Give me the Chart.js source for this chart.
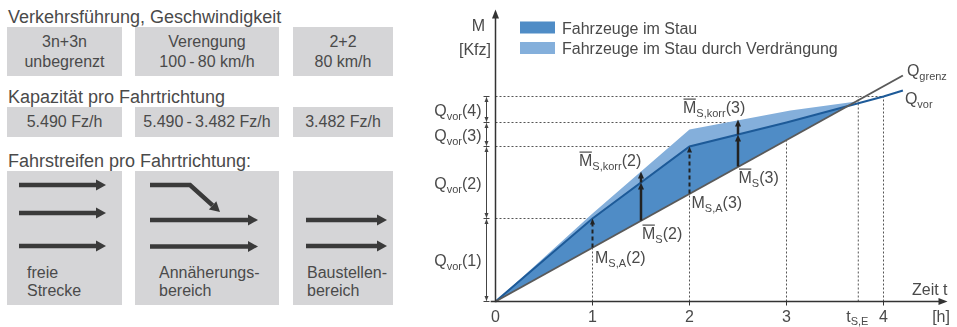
<!DOCTYPE html>
<html lang="de">
<head>
<meta charset="utf-8">
<title>Stauentwicklung an der Arbeitsstelle</title>
<script src="https://cdn.jsdelivr.net/npm/chart.js@4.4.1/dist/chart.umd.min.js"></script>
<style>
  html, body { margin: 0; padding: 0; background: #fff; }
  body {
    position: relative; width: 957px; height: 327px; overflow: hidden;
    font-family: "Liberation Sans", Arial, sans-serif; color: #4a4a4a;
  }
  .kopf { position: absolute; left: 8px; font-size: 18px; line-height: 18px; white-space: nowrap; }
  .feld {
    position: absolute; background: #d5d5d7; font-size: 16px; line-height: 20px;
    text-align: center; box-sizing: border-box; white-space: nowrap;
    display: flex; flex-direction: column; justify-content: center;
  }
  .zeile1 { top: 27px; height: 49px; }
  .zeile2 { top: 107px; height: 30px; }
  .zeile3 { top: 171px; height: 134px; text-align: left; justify-content: flex-start; padding-top: 93px; line-height: 18px; }
  .s1 { left: 7px; width: 115px; }
  .s2 { left: 135px; width: 144px; }
  .s3 { left: 293px; width: 100px; }
  .zeile3.s1 { padding-left: 20px; }
  .zeile3.s2 { padding-left: 24px; }
  .zeile3.s3 { padding-left: 14px; }
  #fahrstreifen { position: absolute; left: 0; top: 0; }
  #diagramm { position: absolute; left: 410px; top: 0; }
</style>
</head>
<body>

<div class="kopf" style="top:8px">Verkehrsführung, Geschwindigkeit</div>
<div class="feld zeile1 s1"><span>3n+3n</span><span>unbegrenzt</span></div>
<div class="feld zeile1 s2"><span>Verengung</span><span>100&#8201;-&#8201;80 km/h</span></div>
<div class="feld zeile1 s3"><span>2+2</span><span>80 km/h</span></div>

<div class="kopf" style="top:88px">Kapazität pro Fahrtrichtung</div>
<div class="feld zeile2 s1">5.490 Fz/h</div>
<div class="feld zeile2 s2">5.490&#8201;-&#8201;3.482 Fz/h</div>
<div class="feld zeile2 s3">3.482 Fz/h</div>

<div class="kopf" style="top:152px">Fahrstreifen pro Fahrtrichtung:</div>
<div class="feld zeile3 s1"><span>freie</span><span>Strecke</span></div>
<div class="feld zeile3 s2"><span>Annäherungs-</span><span>bereich</span></div>
<div class="feld zeile3 s3"><span>Baustellen-</span><span>bereich</span></div>

<svg id="fahrstreifen" width="400" height="327" viewBox="0 0 400 327">
  <g stroke="#3a3a3a" stroke-width="4.5" fill="none">
    <!-- freie Strecke: drei Fahrstreifen -->
    <line x1="19" y1="185" x2="97" y2="185"/>
    <line x1="19" y1="213" x2="97" y2="213"/>
    <line x1="19" y1="246" x2="97" y2="246"/>
    <!-- Annäherungsbereich: Einfädeln -->
    <polyline points="150,185 190,185 212.6,205.3"/>
    <line x1="150" y1="220" x2="249" y2="220"/>
    <line x1="150" y1="246.5" x2="249" y2="246.5"/>
    <!-- Baustellenbereich: zwei Fahrstreifen -->
    <line x1="306" y1="220" x2="378" y2="220"/>
    <line x1="306" y1="246" x2="378" y2="246"/>
  </g>
  <g fill="#3a3a3a">
    <polygon points="106,185 96,179.5 96,190.5"/>
    <polygon points="106,213 96,207.5 96,218.5"/>
    <polygon points="106,246 96,240.5 96,251.5"/>
    <polygon points="220,212 208.9,209.4 216.3,201.2"/>
    <polygon points="258,220 248,214.5 248,225.5"/>
    <polygon points="258,246.5 248,241 248,252"/>
    <polygon points="387,220 377,214.5 377,225.5"/>
    <polygon points="387,246 377,240.5 377,251.5"/>
  </g>
</svg>

<canvas id="diagramm" width="547" height="327"></canvas>

<script>
// Zeitachse [h]
const zeitTicks = [0, 1, 2, 3, 4];
const tStauEnde = 3.74;

// Summenlinie der Zuflüsse Q_vor [Kfz]
const tVor = [0, 1, 2, 3, 4, 4.2];
const mVor = [0, 83, 155, 179, 205, 211];

// Kapazitätsgrenze Q_grenz
const tGrenz = [0, 4.2];
const mGrenz = [0, 226];

// Oberkante inkl. verdrängter Fahrzeuge
const tKorr = [0, 1, 2, 3.04, 3.72];
const mKorr = [0, 88, 172, 191, 200];

// Stützstellen M_S,A (gestrichelte Pfeile)
const tStuetz = [1, 2];
const mStuetzUnten = [54, 108];

// Messpfeile M̄_S und M̄_S,korr
const tPfeil = [1.5, 2.5];
const mPfeilUnten = [81, 135];
const mPfeilMitte = [119, 167];
const mPfeilOben = [130, 182];

const DUNKEL = '#4f8cc6';
const HELL = '#84afdb';
const LINIE_VOR = '#1d5a98';
const LINIE_GRENZ = '#5a5a5a';
const TEXT = '#4a4a4a';
const SCHRIFT = '"Liberation Sans", Arial, sans-serif';

const punkte = (ts, ms) => ts.map((t, i) => ({ x: t, y: ms[i] }));

function strecke(ctx, x1, y1, x2, y2) {
  ctx.beginPath();
  ctx.moveTo(x1, y1);
  ctx.lineTo(x2, y2);
  ctx.stroke();
}

function spitze(ctx, x, y, winkel, l, b) {
  ctx.save();
  ctx.translate(x, y);
  ctx.rotate(winkel);
  ctx.beginPath();
  ctx.moveTo(0, 0);
  ctx.lineTo(-l, -b / 2);
  ctx.lineTo(-l, b / 2);
  ctx.closePath();
  ctx.fill();
  ctx.restore();
}

// Formelsatz: [text] normal, [text,'sub'] tiefgestellt, [text,'bar'] mit Querstrich
function formel(ctx, teile, x, y, ausrichtung, tief = 4) {
  const font = teil => (teil[1] === 'sub' ? '11px ' : '16px ') + SCHRIFT;
  const breiten = teile.map(teil => { ctx.font = font(teil); return ctx.measureText(teil[0]).width; });
  const gesamt = breiten.reduce((a, b) => a + b, 0);
  let cx = ausrichtung === 'right' ? x - gesamt : ausrichtung === 'center' ? x - gesamt / 2 : x;
  ctx.textAlign = 'left';
  ctx.textBaseline = 'alphabetic';
  teile.forEach((teil, i) => {
    ctx.font = font(teil);
    ctx.fillText(teil[0], cx, teil[1] === 'sub' ? y + tief : y);
    if (teil[1] === 'bar') ctx.fillRect(cx + 0.5, y - 14, breiten[i] - 1, 1.2);
    cx += breiten[i];
  });
}

const zeichnung = {
  id: 'zeichnung',
  beforeDatasetsDraw(chart) {
    const { ctx, scales: { x, y } } = chart;
    const px = v => x.getPixelForValue(v);
    const py = v => y.getPixelForValue(v);
    const grenzBei = t => mGrenz[1] * t / tGrenz[1];
    const stand = t => mVor[tVor.indexOf(t)];

    ctx.save();
    ctx.strokeStyle = '#555';
    ctx.lineWidth = 1;
    ctx.setLineDash([2, 2]);
    // waagerechte Hilfslinien der stündlichen Zuflüsse
    zeitTicks.slice(1).forEach(t => strecke(ctx, px(0), py(stand(t)), px(t), py(stand(t))));
    // senkrechte Hilfslinien
    [1, 2, 3].forEach(t => strecke(ctx, px(t), py(0), px(t), py(grenzBei(t))));
    [tStauEnde, 4].forEach(t => strecke(ctx, px(t), py(0), px(t), py(stand(4))));
    ctx.restore();
  },
  afterDatasetsDraw(chart) {
    const { ctx, chartArea, scales: { x, y } } = chart;
    const px = v => x.getPixelForValue(v);
    const py = v => y.getPixelForValue(v);
    const x0 = px(0), y0 = py(0);
    const stand = t => mVor[tVor.indexOf(t)];

    ctx.save();
    ctx.fillStyle = '#333';
    ctx.strokeStyle = '#333';
    ctx.lineWidth = 1.5;

    // Achsen mit Pfeilspitzen
    const xEnde = px(4.66), yEnde = py(292);
    strecke(ctx, px(-0.05), y0, xEnde - 6, y0);
    spitze(ctx, xEnde, y0, 0, 9, 7);
    strecke(ctx, x0, y0 + 0.75, x0, yEnde + 6);
    spitze(ctx, x0, yEnde, -Math.PI / 2, 9, 7);
    ctx.lineWidth = 1;
    zeitTicks.slice(1).forEach(t => strecke(ctx, px(t), y0, px(t), y0 + 4));

    // Bemaßung der stündlichen Zuflüsse links der Achse
    const stufen = [0].concat(zeitTicks.slice(1).map(stand));
    const xb = x0 - 9;
    ctx.strokeStyle = '#444';
    ctx.fillStyle = '#444';
    stufen.forEach(m => strecke(ctx, xb - 3, py(m), xb + 3, py(m)));
    for (let i = 1; i < stufen.length; i++) {
      const ya = py(stufen[i - 1]), yb = py(stufen[i]);
      strecke(ctx, xb, ya - 1, xb, yb + 1);
      spitze(ctx, xb, ya - 0.5, Math.PI / 2, 5, 4);
      spitze(ctx, xb, yb + 0.5, -Math.PI / 2, 5, 4);
    }

    // gestrichelte Pfeile M_S,A -> Q_vor
    ctx.strokeStyle = '#222';
    ctx.fillStyle = '#222';
    ctx.lineWidth = 2;
    ctx.setLineDash([4, 3]);
    tStuetz.forEach((t, i) => strecke(ctx, px(t), py(mStuetzUnten[i]), px(t), py(stand(t)) + 5));
    ctx.setLineDash([]);
    tStuetz.forEach(t => spitze(ctx, px(t), py(stand(t)), -Math.PI / 2, 6, 5));

    // Messpfeile M̄_S und M̄_S,korr
    ctx.lineWidth = 2.5;
    tPfeil.forEach((t, i) => {
      const xp = px(t);
      strecke(ctx, xp, py(mPfeilUnten[i]), xp, py(mPfeilMitte[i]) + 5);
      spitze(ctx, xp, py(mPfeilMitte[i]), -Math.PI / 2, 7, 6);
      strecke(ctx, xp, py(mPfeilMitte[i]), xp, py(mPfeilOben[i]) + 5);
      spitze(ctx, xp, py(mPfeilOben[i]), -Math.PI / 2, 7, 6);
    });

    // Beschriftungen an den Pfeilen
    ctx.fillStyle = TEXT;
    const marken = [
      { teile: [['M', 'bar'], ['S,korr', 'sub'], ['(2)']], t: tPfeil[0], m: mPfeilOben[0], dx: -62, dy: -6 },
      { teile: [['M', 'bar'], ['S', 'sub'], ['(2)']], t: tPfeil[0], m: mPfeilUnten[0], dx: 1, dy: 18 },
      { teile: [['M'], ['S,A', 'sub'], ['(2)']], t: tStuetz[0], m: mStuetzUnten[0], dx: 2.5, dy: 15 },
      { teile: [['M'], ['S,A', 'sub'], ['(3)']], t: tStuetz[1], m: mStuetzUnten[1], dx: 2, dy: 14 },
      { teile: [['M', 'bar'], ['S', 'sub'], ['(3)']], t: tPfeil[1], m: mPfeilUnten[1], dx: 0.5, dy: 16 },
      { teile: [['M', 'bar'], ['S,korr', 'sub'], ['(3)']], t: tPfeil[1], m: mPfeilOben[1], dx: -55, dy: -7 }
    ];
    marken.forEach(b => formel(ctx, b.teile, px(b.t) + b.dx, py(b.m) + b.dy, 'left'));

    // Q_vor(k) zwischen den Bemaßungspfeilen
    for (let i = 1; i < stufen.length; i++) {
      const mitte = (py(stufen[i - 1]) + py(stufen[i])) / 2;
      formel(ctx, [['Q'], ['vor', 'sub'], ['(' + i + ')']], x0 - 14, mitte + 6, 'right');
    }

    // Linienbezeichnungen am Ende
    const nG = tGrenz.length - 1, nV = tVor.length - 1;
    formel(ctx, [['Q'], ['grenz', 'sub']], px(tGrenz[nG]) + 4, py(mGrenz[nG]), 'left');
    formel(ctx, [['Q'], ['vor', 'sub']], px(tVor[nV]) + 2, py(mVor[nV]) + 13, 'left');

    // Achsenbeschriftungen
    const oben = chartArea.top;
    formel(ctx, [['M']], x0 - 10.5, oben + 31, 'right');
    formel(ctx, [['[Kfz]']], x0 - 4.5, oben + 54.5, 'right');
    formel(ctx, [['Zeit t']], xEnde, y0 - 7, 'right');
    const unten = y0 + 20.5;
    zeitTicks.forEach(t => formel(ctx, [[String(t)]], px(t), unten, 'center'));
    formel(ctx, [['t'], ['S,E', 'sub']], px(tStauEnde) - 12, unten, 'left', 3);
    formel(ctx, [['[h]']], xEnde - 6.5, unten, 'center');

    // Legende
    const legende = [chart.data.datasets[1], chart.data.datasets[2]];
    legende.forEach((ds, i) => {
      const basis = oben + 33.5 + i * 20.5;
      ctx.fillStyle = ds.fill.above;
      ctx.fillRect(x0 + 24.5, basis - 12, 35, 12);
      ctx.fillStyle = TEXT;
      formel(ctx, [[ds.label]], x0 + 66.5, basis, 'left');
    });
    ctx.restore();
  }
};

new Chart(document.getElementById('diagramm'), {
  type: 'line',
  data: {
    datasets: [
      {
        label: 'Q_grenz',
        data: punkte(tGrenz, mGrenz),
        borderColor: LINIE_GRENZ,
        borderWidth: 2,
        fill: false,
        order: 0
      },
      {
        label: 'Fahrzeuge im Stau',
        data: punkte(tVor, mVor),
        borderColor: LINIE_VOR,
        borderWidth: 2,
        backgroundColor: DUNKEL,
        fill: { target: 0, above: DUNKEL, below: 'rgba(0,0,0,0)' },
        order: 1
      },
      {
        label: 'Fahrzeuge im Stau durch Verdrängung',
        data: punkte(tKorr, mKorr),
        borderColor: 'rgba(0,0,0,0)',
        borderWidth: 0,
        backgroundColor: HELL,
        fill: { target: 0, above: HELL, below: 'rgba(0,0,0,0)' },
        order: 2
      }
    ]
  },
  options: {
    responsive: false,
    animation: false,
    layout: { padding: 0 },
    elements: { point: { radius: 0 }, line: { tension: 0 } },
    plugins: { legend: { display: false }, tooltip: { enabled: false } },
    scales: {
      x: { type: 'linear', min: -85.5 / 97, max: (547 - 85.5) / 97, display: false },
      y: { type: 'linear', min: -25.5, max: 301.5, display: false }
    }
  },
  plugins: [zeichnung]
});
</script>
</body>
</html>
